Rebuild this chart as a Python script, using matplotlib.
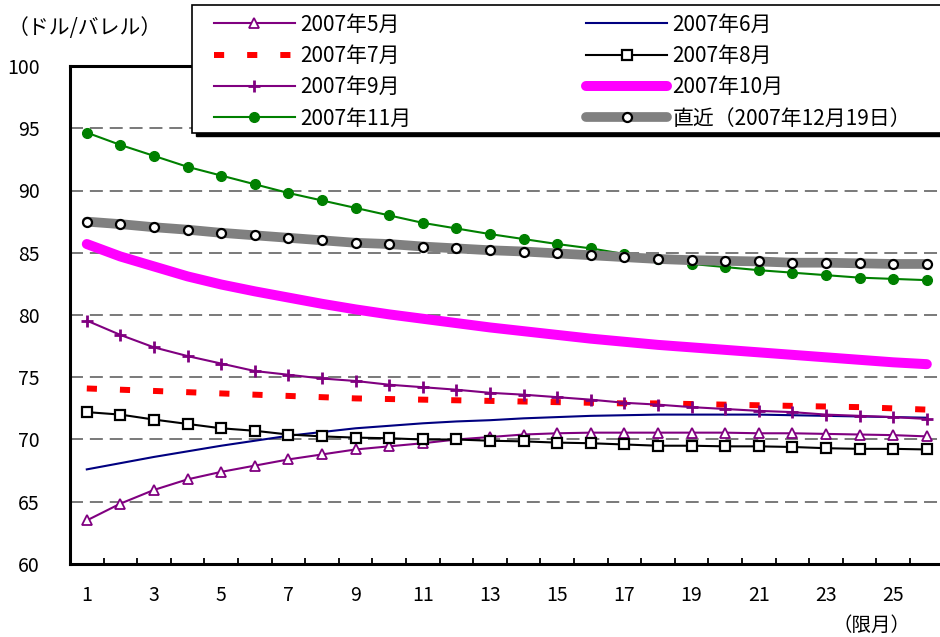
import matplotlib
matplotlib.use("Agg")
import matplotlib.pyplot as plt
from matplotlib.patches import Rectangle

plt.rcParams['font.family'] = ['Noto Sans CJK JP', 'DejaVu Sans']

months = list(range(1, 27))
may = [63.5, 64.85, 65.95, 66.8, 67.4, 67.9, 68.4, 68.8, 69.2, 69.45, 69.7, 70.0, 70.2,
       70.4, 70.5, 70.55, 70.55, 70.55, 70.55, 70.55, 70.5, 70.5, 70.45, 70.4, 70.35, 70.25]
jun = [67.6, 68.1, 68.6, 69.05, 69.5, 69.9, 70.3, 70.6, 70.9, 71.1, 71.3, 71.45, 71.55,
       71.7, 71.8, 71.9, 71.95, 72.0, 72.0, 72.0, 72.0, 71.95, 71.9, 71.85, 71.8, 71.75]
jul = [74.1, 74.0, 73.9, 73.8, 73.7, 73.6, 73.5, 73.4, 73.3, 73.25, 73.2, 73.15, 73.1,
       73.05, 73.0, 72.95, 72.9, 72.9, 72.85, 72.8, 72.75, 72.7, 72.65, 72.6, 72.5, 72.4]
aug = [72.2, 72.0, 71.6, 71.25, 70.9, 70.7, 70.4, 70.25, 70.15, 70.1, 70.0, 70.0, 69.9,
       69.85, 69.75, 69.7, 69.6, 69.5, 69.5, 69.45, 69.45, 69.4, 69.3, 69.25, 69.25, 69.2]
sep = [79.55, 78.4, 77.4, 76.7, 76.1, 75.5, 75.2, 74.9, 74.7, 74.4, 74.2, 74.0, 73.75,
       73.6, 73.4, 73.2, 72.95, 72.8, 72.6, 72.45, 72.3, 72.2, 72.0, 71.9, 71.8, 71.65]
octo = [85.7, 84.7, 83.9, 83.1, 82.45, 81.9, 81.4, 80.9, 80.45, 80.05, 79.7, 79.35, 79.0,
        78.7, 78.4, 78.1, 77.85, 77.6, 77.4, 77.2, 77.0, 76.8, 76.6, 76.4, 76.2, 76.05]
nov = [94.65, 93.66, 92.78, 91.9, 91.2, 90.5, 89.8, 89.2, 88.6, 88.0, 87.4, 86.95, 86.5,
       86.1, 85.7, 85.35, 84.9, 84.5, 84.1, 83.85, 83.6, 83.4, 83.2, 83.0, 82.9, 82.8]
latest = [87.5, 87.3, 87.05, 86.85, 86.6, 86.4, 86.2, 86.0, 85.8, 85.7, 85.5, 85.35, 85.2,
          85.1, 84.95, 84.8, 84.65, 84.5, 84.4, 84.35, 84.3, 84.2, 84.2, 84.15, 84.1, 84.1]

labels = ['2007年5月', '2007年6月', '2007年7月', '2007年8月', '2007年9月',
          '2007年10月', '2007年11月', '直近（2007年12月19日）']
y_ticks = [60, 65, 70, 75, 80, 85, 90, 95, 100]
x_tick_labels = list(range(1, 26, 2))

W, H = 940, 637
fig = plt.figure(figsize=(W / 100, H / 100), dpi=100)
ax = fig.add_axes([70 / W, (H - 564) / H, 873.6 / W, 498 / H])

purple = '#800080'
h = {}
h['may'], = ax.plot(months, may, color=purple, lw=1.5, marker='^', ms=7, mfc='white',
                    mec=purple, mew=1.3, label=labels[0])
h['jun'], = ax.plot(months, jun, color='#000080', lw=1.5, label=labels[1])
h['jul'], = ax.plot(months, jul, color='#ff0000', lw=4.3, dashes=(1.7, 3.85),
                    dash_capstyle='butt', label=labels[2])
h['aug'], = ax.plot(months, aug, color='black', lw=1.5, marker='s', ms=7, mfc='white',
                    mec='black', mew=1.6, label=labels[3])
h['sep'], = ax.plot(months, sep, color=purple, lw=1.5, marker='+', ms=9, mew=2.0,
                    label=labels[4])
h['oct'], = ax.plot(months, octo, color='#ff00ff', lw=7.2, solid_capstyle='round',
                    label=labels[5])
h['nov'], = ax.plot(months, nov, color='#008000', lw=1.5, marker='o', ms=7,
                    mfc='#008000', mec='#008000', label=labels[6])
h['lat'], = ax.plot(months, latest, color='#808080', lw=7, marker='o', ms=6.5,
                    mfc='white', mec='black', mew=1.6, solid_capstyle='round',
                    label=labels[7])

ax.set_xlim(0.5, 26.5)
ax.set_ylim(60, 100)
ax.set_yticks(y_ticks)
ax.set_yticklabels([str(v) for v in y_ticks])
ax.set_xticks(x_tick_labels)
ax.set_xticklabels([str(v) for v in x_tick_labels])
ax.set_xticks([i + 0.5 for i in range(0, 27)], minor=True)
ax.tick_params(axis='y', length=0, pad=22, labelsize=14)
ax.tick_params(axis='x', which='major', length=0, pad=15, labelsize=14)
ax.tick_params(axis='x', which='minor', direction='in', length=4.5, width=1.3)

for yv in [65, 70, 75, 80, 85, 90, 95]:
    ax.axhline(yv, color='#555555', lw=1.1, dashes=(8.5, 4.5), zorder=0)

for s in ['left', 'bottom', 'top']:
    ax.spines[s].set_linewidth(2.2)
ax.spines['right'].set_visible(False)

# legend frame with shadow (figure pixels)
lx0, ly0, lx1, ly1 = 192, 5, 946, 133
fig.patches.append(Rectangle(((lx0 + 4) / W, (H - ly1 - 3) / H), (lx1 - lx0) / W,
                             (ly1 - ly0) / H, transform=fig.transFigure,
                             facecolor='black', edgecolor='black', zorder=5))
fig.patches.append(Rectangle((lx0 / W, (H - ly1) / H), (lx1 - lx0) / W,
                             (ly1 - ly0) / H, transform=fig.transFigure,
                             facecolor='white', edgecolor='black', lw=1.2, zorder=6))

order = ['may', 'jul', 'sep', 'nov', 'jun', 'aug', 'oct', 'lat']
leg = fig.legend([h[k] for k in order], [h[k].get_label() for k in order],
                 loc='upper left', bbox_to_anchor=(199 / W, 1 + 1 / H), ncol=2,
                 frameon=False, fontsize=15, handlelength=3.9, handletextpad=0.25,
                 columnspacing=8.4, labelspacing=0.45, numpoints=1, borderpad=0.2)
leg.set_zorder(7)

fig.text(8 / W, 1 - 28 / H, '（ドル/バレル）', fontsize=15, ha='left', va='center')
fig.text(872 / W, 1 - 625 / H, '（限月）', fontsize=14, ha='center', va='center')

fig.savefig('out.png', dpi=100)
